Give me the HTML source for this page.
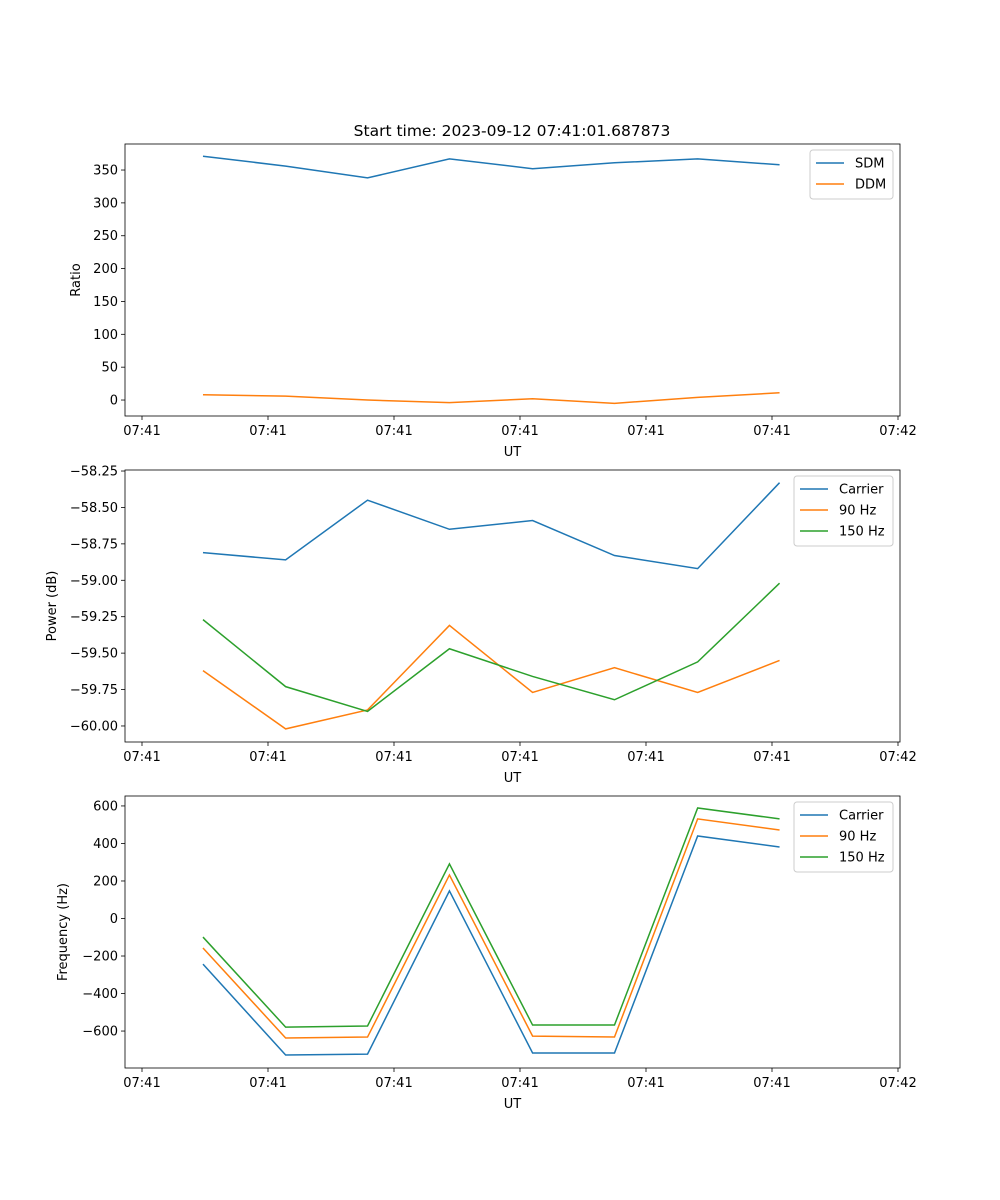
<!DOCTYPE html>
<html><head><meta charset="utf-8"><style>
body{margin:0;background:#fff}
svg{display:block;font-family:"DejaVu Sans","Liberation Sans",sans-serif}
</style></head><body>
<svg id="fig" width="1000" height="1200" viewBox="0 0 1000 1200">
<rect width="1000" height="1200" fill="#fff"/>
<text x="512" y="136" font-size="15.5" text-anchor="middle">Start time: 2023-09-12 07:41:01.687873</text>
</svg>
<script>
const times = [4.84, 11.4, 17.9, 24.4, 31.0, 37.5, 44.1, 50.6];
const xTickVals = [0, 10, 20, 30, 40, 50, 60];
const xTickLabels = ["07:41","07:41","07:41","07:41","07:41","07:41","07:42"];
const sdm = [371, 356, 338, 367, 352, 361, 367, 358];
const ddm = [8, 6, 0, -4, 2, -5, 4, 11];
const ratioTicks = [0, 50, 100, 150, 200, 250, 300, 350];
const powCarrier = [-58.81, -58.86, -58.45, -58.65, -58.59, -58.83, -58.92, -58.33];
const pow90 = [-59.62, -60.02, -59.89, -59.31, -59.77, -59.60, -59.77, -59.55];
const pow150 = [-59.27, -59.73, -59.90, -59.47, -59.66, -59.82, -59.56, -59.02];
const powTicks = [-60.00, -59.75, -59.50, -59.25, -59.00, -58.75, -58.50, -58.25];
const freqCarrier = [-243, -728, -723, 147, -717, -717, 440, 381];
const freq90 = [-157, -637, -632, 232, -627, -632, 531, 472];
const freq150 = [-99, -579, -573, 291, -568, -568, 589, 531];
const freqTicks = [-600, -400, -200, 0, 200, 400, 600];

const NS = "http://www.w3.org/2000/svg";
const fig = document.getElementById('fig');
function mk(tag, attrs, parent){const e=document.createElementNS(NS,tag);for(const k in attrs)e.setAttribute(k,attrs[k]);(parent||fig).appendChild(e);return e;}
const L=125,R=900,X0=-1.349,X1=60.159;
function xs(t){return L+(t-X0)/(X1-X0)*(R-L);}

function panel(name, top, bot, y0, y1, ticks, fmt, ylabel, series, legend){
  const g=mk('g',{});
  
  
  const ys=v=>bot-(v-y0)/(y1-y0)*(bot-top);
  xTickVals.forEach((t,i)=>{
    const x=xs(t);
    mk('line',{x1:x,x2:x,y1:bot,y2:bot+4,stroke:'#000','stroke-width':0.8},g);
    const tx=mk('text',{x:x,y:bot+19,'font-size':13,'text-anchor':'middle'},g);
    tx.textContent=xTickLabels[i];
    
    
  });
  ticks.forEach(v=>{
    const y=ys(v);
    mk('line',{x1:L-4,x2:L,y1:y,y2:y,stroke:'#000','stroke-width':0.8},g);
    const tx=mk('text',{x:L-7,y:y+4.5,'font-size':13,'text-anchor':'end'},g);
    tx.textContent=fmt(v);
    
    
  });
  series.forEach(s=>{
    const p=mk('polyline',{points:s.vals.map((v,i)=>xs(times[i])+','+ys(v)).join(' '),fill:'none',stroke:s.color,'stroke-width':1.5},g);
    
    
  });
  mk('rect',{x:L,y:top,width:R-L,height:bot-top,fill:'none',stroke:'#000','stroke-width':0.8},g);
  const xl=mk('text',{x:(L+R)/2,y:bot+40,'font-size':13,'text-anchor':'middle'},g);
  xl.textContent='UT';
  
  
  const cy=(top+bot)/2, lx=legend.labelX;
  const yl=mk('text',{x:lx,y:cy,'font-size':13,'text-anchor':'middle',transform:`rotate(-90 ${lx} ${cy})`},g);
  yl.textContent=ylabel;
  
  
  const lg=mk('g',{},g);
  
  
  const h=series.length*21+7;
  mk('rect',{x:legend.x,y:top+6,width:893-legend.x,height:h,rx:3,fill:'#fff','fill-opacity':0.8,stroke:'#ccc'},lg);
  series.forEach((s,i)=>{
    const y=top+19+i*21;
    mk('line',{x1:legend.x+6,x2:legend.x+34,y1:y,y2:y,stroke:s.color,'stroke-width':1.5},lg);
    const t=mk('text',{x:legend.x+45,y:y+4.5,'font-size':13},lg);
    t.textContent=s.label;
    
    
  });
}
const C1='#1f77b4',C2='#ff7f0e',C3='#2ca02c';
panel('ratio-panel',144,416,-24.3,389.6,ratioTicks,v=>String(v),'Ratio',
  [{id:'sdm-line',vals:sdm,color:C1,label:'SDM'},{id:'ddm-line',vals:ddm,color:C2,label:'DDM'}],{x:810,labelX:80});
panel('power-panel',470,742,-60.11,-58.243,powTicks,v=>'\u2212'+Math.abs(v).toFixed(2),'Power (dB)',
  [{id:'power-carrier-line',vals:powCarrier,color:C1,label:'Carrier'},{id:'power-90hz-line',vals:pow90,color:C2,label:'90 Hz'},{id:'power-150hz-line',vals:pow150,color:C3,label:'150 Hz'}],{x:794,labelX:56});
panel('frequency-panel',796,1068,-797,653,freqTicks,v=>v<0?'\u2212'+Math.abs(v):String(v),'Frequency (Hz)',
  [{id:'freq-carrier-line',vals:freqCarrier,color:C1,label:'Carrier'},{id:'freq-90hz-line',vals:freq90,color:C2,label:'90 Hz'},{id:'freq-150hz-line',vals:freq150,color:C3,label:'150 Hz'}],{x:794,labelX:67});
</script>
</body></html>
